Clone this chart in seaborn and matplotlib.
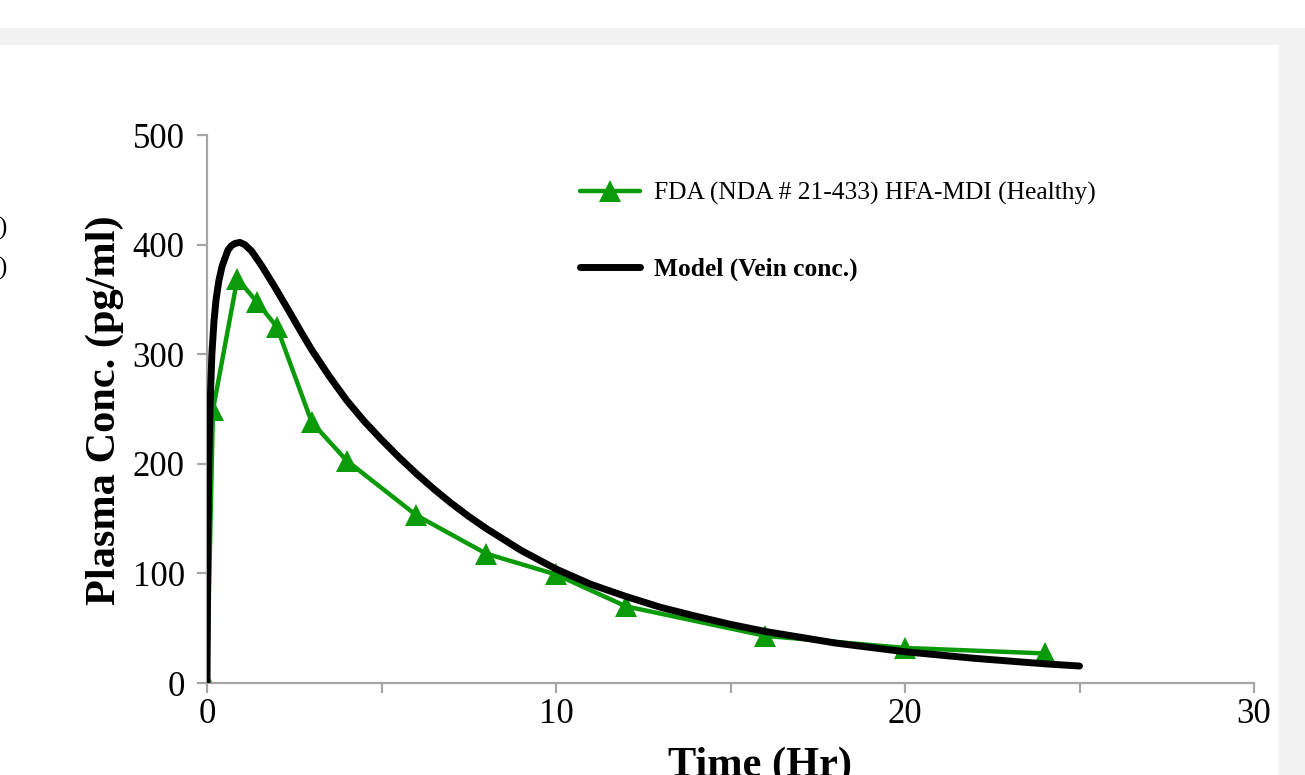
import matplotlib
matplotlib.use("Agg")
import matplotlib.pyplot as plt
from matplotlib.patches import Rectangle
from matplotlib.ticker import MultipleLocator
import seaborn as sns
import pandas as pd

# ---- data ----
fda_time = [0, 0.17, 0.87, 1.42, 2.0, 3.0, 4.0, 6.0, 8.0, 10.0, 12.0, 16.0, 20.0, 24.0]
fda_conc = [0, 249, 369, 348, 325, 238, 203, 153, 118, 99, 70, 43, 32, 27]

model_time = [0, 0.02, 0.05, 0.09, 0.14, 0.2, 0.26, 0.34, 0.43, 0.52, 0.6, 0.7, 0.8,
              0.94, 1.08, 1.28, 1.56, 1.93, 2.3, 2.7, 3.0, 3.5, 4.0, 4.5, 5.0, 5.5,
              6.0, 6.5, 7.0, 7.5, 8.0, 9.0, 10.0, 11.0, 12.0, 13.0, 14.0, 15.0,
              16.0, 18.0, 20.0, 22.0, 24.0, 25.0]
model_conc = [0, 110, 200, 255, 300, 330, 350, 367, 380, 388, 395, 399, 401,
              402, 400, 394, 381, 362, 342, 320, 304, 280, 258, 239, 222, 206,
              191, 177, 164, 152, 141, 121, 104, 90, 79, 69, 61, 53.5,
              47, 36.5, 28.5, 22.5, 17.5, 15.5]

fda_label = "FDA (NDA # 21-433) HFA-MDI (Healthy)"
model_label = "Model (Vein conc.)"
x_label = "Time (Hr)"
y_label = "Plasma Conc. (pg/ml)"

sns.set_theme(style="white")
plt.rcParams["font.family"] = ["Liberation Serif", "DejaVu Serif"]
plt.rcParams["text.color"] = "black"
plt.rcParams["axes.labelcolor"] = "black"
plt.rcParams["xtick.color"] = "black"
plt.rcParams["ytick.color"] = "black"

W, H = 1305, 775
fig = plt.figure(figsize=(W / 100, H / 100), dpi=100)
fig.patch.set_facecolor("#f2f2f2")
# white strips / panel
fig.patches.append(Rectangle((0, 1 - 28 / H), 1, 28 / H, transform=fig.transFigure,
                             facecolor="white", edgecolor="none", zorder=-10))
fig.patches.append(Rectangle((0, 0), 1279 / W, 1 - 45 / H, transform=fig.transFigure,
                             facecolor="white", edgecolor="none", zorder=-10))

x0, x1 = 207, 1254
y0, y1 = 683, 135
ax = fig.add_axes([x0 / W, 1 - y0 / H, (x1 - x0) / W, (y0 - y1) / H])
ax.set_facecolor("none")

green = "#0a9a0a"
df_fda = pd.DataFrame({"t": fda_time, "c": fda_conc})
df_mod = pd.DataFrame({"t": model_time, "c": model_conc})

sns.lineplot(data=df_fda, x="t", y="c", ax=ax, color=green, lw=3.2, marker="^",
             markersize=16, markeredgewidth=0, label=fda_label, zorder=2)
sns.lineplot(data=df_mod, x="t", y="c", ax=ax, color="black", lw=5,
             label=model_label, zorder=3, solid_capstyle="round",
             solid_joinstyle="round")

ax.set_xlim(0, 30)
ax.set_ylim(0, 500)
ax.xaxis.set_major_locator(MultipleLocator(10))
ax.xaxis.set_minor_locator(MultipleLocator(5))
ax.yaxis.set_major_locator(MultipleLocator(100))

for s in ["top", "right"]:
    ax.spines[s].set_visible(False)
for s in ["left", "bottom"]:
    ax.spines[s].set_color("#a6a6a6")
    ax.spines[s].set_linewidth(1.6)

ax.tick_params(axis="both", which="both", direction="out", color="#a6a6a6",
               width=1.6, length=7, labelsize=25, labelcolor="black")
ax.tick_params(axis="y", pad=9, left=True)
ax.tick_params(axis="x", which="both", pad=4, bottom=True)

ax.set_xlabel("")
ax.set_ylabel("")
fig.text(105 / W, 1 - 410 / H, y_label, rotation=90, ha="center", va="center",
         fontsize=30.5, fontweight="bold", color="black")
fig.text(760 / W, 1 - 747 / H, x_label, ha="center", va="top",
         fontsize=30.5, fontweight="bold", color="black")

# clipped remnants at left edge
fig.text(7 / W, 1 - 228 / H, ")", ha="right", va="center", fontsize=18, color="black")
fig.text(7 / W, 1 - 268 / H, ")", ha="right", va="center", fontsize=18, color="black")

leg = ax.legend(loc="upper left", bbox_to_anchor=(580 / W, 1 - 182 / H),
                bbox_transform=fig.transFigure, frameon=False, fontsize=18.4,
                labelspacing=2.05, handlelength=2.35, handletextpad=0.55,
                borderpad=0, borderaxespad=0)
for t in leg.get_texts():
    t.set_color("black")
leg.get_texts()[1].set_fontweight("bold")

fig.savefig("out.png", dpi=100, facecolor=fig.get_facecolor())
